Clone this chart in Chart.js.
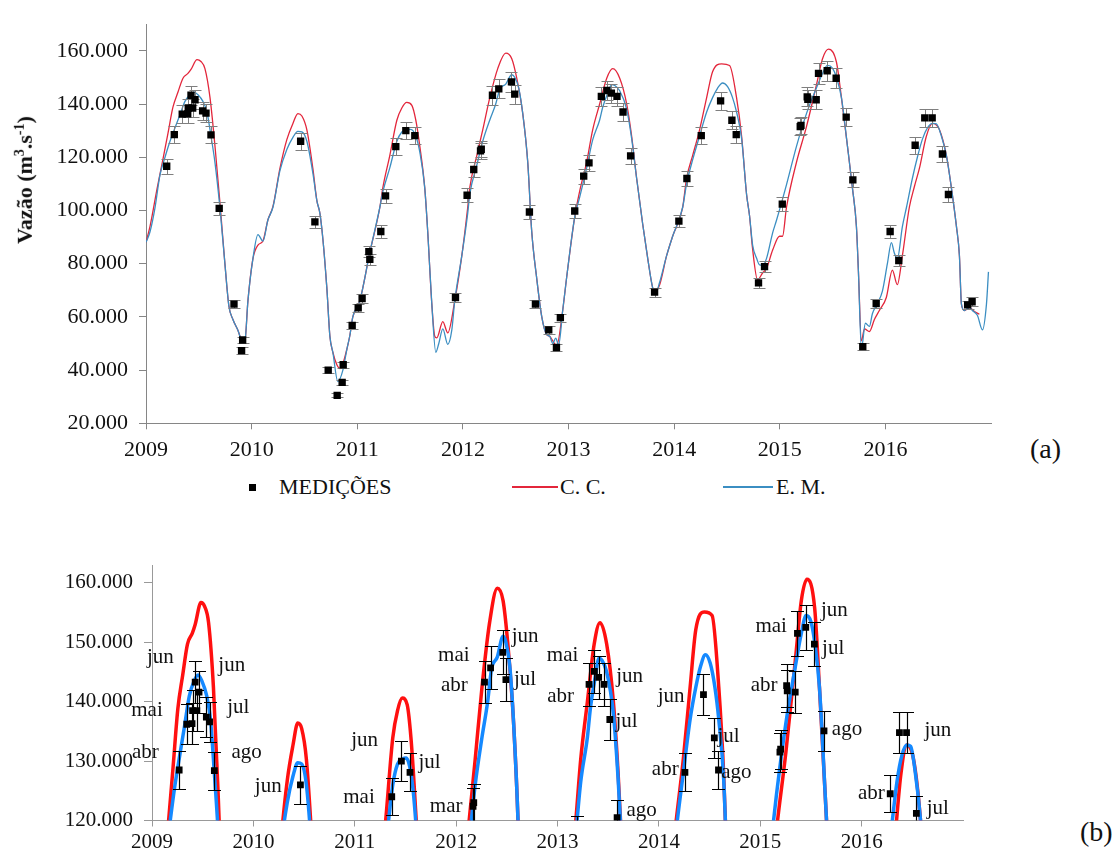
<!DOCTYPE html>
<html>
<head>
<meta charset="utf-8">
<script src="https://cdn.jsdelivr.net/npm/chart.js@4.4.1/dist/chart.umd.min.js"></script>
<style>
  html,body{margin:0;padding:0;background:#fff;}
  body{width:1118px;height:859px;position:relative;overflow:hidden;font-family:"Liberation Serif","Times New Roman",serif;color:#111;}
  canvas{position:absolute;left:0;}
  .t{position:absolute;white-space:nowrap;font-family:"Liberation Serif","Times New Roman",serif;}
</style>
</head>
<body>
<canvas id="ca" width="1010" height="470" style="top:0px"></canvas>
<canvas id="cb" width="1010" height="319" style="top:540px"></canvas>

<div class="t" id="ytitle" style="left:25px;top:180px;font-weight:bold;font-size:22px;transform:translate(-50%,-50%) rotate(-90deg);">Vazão (m<sup style="font-size:14px">3</sup>.s<sup style="font-size:14px">-1</sup>)</div>
<div class="t" style="left:1030px;top:432px;font-size:28px;line-height:34px;">(a)</div>
<div class="t" style="left:1080px;top:815px;font-size:28px;line-height:34px;">(b)</div>

<div style="position:absolute;left:249px;top:484px;width:7px;height:7px;background:#000;"></div>
<div class="t" style="left:279px;top:474px;font-size:22px;line-height:26px;">MEDIÇÕES</div>
<div style="position:absolute;left:512px;top:486px;width:46px;height:1.5px;background:#e3263b;"></div>
<div class="t" style="left:560px;top:474px;font-size:22px;line-height:26px;">C. C.</div>
<div style="position:absolute;left:723px;top:486px;width:50px;height:1.5px;background:#3b8ec2;"></div>
<div class="t" style="left:776px;top:474px;font-size:22px;line-height:26px;">E. M.</div>

<script>
// ---------- tick labels ----------
const years = [2009, 2010, 2011, 2012, 2013, 2014, 2015, 2016];
const yTicksA = [20000, 40000, 60000, 80000, 100000, 120000, 140000, 160000];
const yTicksB = [120000, 130000, 140000, 150000, 160000];

// ---------- C. C. series (decimal year, m3/s) ----------
const ccT = [2009.000,2009.038,2009.104,2009.161,2009.208,2009.255,2009.303,2009.350,2009.397,2009.426,2009.483,2009.520,2009.558,2009.606,2009.653,2009.700,2009.747,2009.785,2009.823,2009.870,2009.918,2009.937,2009.965,2010.012,2010.060,2010.107,2010.154,2010.202,2010.268,2010.334,2010.391,2010.438,2010.476,2010.523,2010.580,2010.618,2010.646,2010.675,2010.712,2010.741,2010.769,2010.807,2010.835,2010.864,2010.902,2010.930,2010.958,2011.024,2011.119,2011.214,2011.242,2011.308,2011.375,2011.422,2011.469,2011.517,2011.554,2011.592,2011.639,2011.668,2011.706,2011.734,2011.753,2011.810,2011.857,2011.923,2011.990,2012.046,2012.065,2012.132,2012.188,2012.255,2012.330,2012.406,2012.463,2012.510,2012.567,2012.614,2012.652,2012.699,2012.747,2012.794,2012.822,2012.851,2012.888,2012.945,2012.983,2013.059,2013.106,2013.172,2013.229,2013.295,2013.362,2013.419,2013.485,2013.551,2013.598,2013.645,2013.702,2013.750,2013.797,2013.816,2013.863,2013.929,2013.986,2014.081,2014.118,2014.175,2014.241,2014.308,2014.364,2014.450,2014.525,2014.591,2014.639,2014.686,2014.714,2014.743,2014.790,2014.837,2014.875,2014.932,2014.998,2015.026,2015.064,2015.159,2015.253,2015.348,2015.405,2015.461,2015.537,2015.584,2015.641,2015.688,2015.726,2015.745,2015.773,2015.802,2015.849,2015.896,2015.943,2016.009,2016.066,2016.113,2016.161,2016.227,2016.275,2016.322,2016.388,2016.446,2016.512,2016.578,2016.625,2016.673,2016.701,2016.720,2016.749,2016.796,2016.843,2016.890];
const ccV = [88000,94000,108000,119400,129000,138800,144500,149700,151500,153000,156700,156000,153300,142400,124200,103000,80000,64000,59000,55000,50300,51000,66000,81800,87000,88500,96400,101500,115800,126700,132700,136400,135500,130300,115700,103600,99000,89100,70900,52700,46700,42000,40600,42400,47900,53000,60000,66000,84200,101200,108500,120600,133900,138500,140600,139500,134000,124200,108500,91500,64800,52700,52100,58200,54000,66000,83000,101200,108500,120600,130300,142400,153300,159100,157000,149700,136400,118200,92000,74500,60000,53300,52700,51000,49100,62400,75000,97600,107300,118200,130300,140000,149700,153300,149700,140000,127900,112100,95000,82000,70900,69500,72100,83000,90300,101200,112100,120600,130300,142400,152100,155100,154500,142400,127900,106000,98000,85500,73900,76500,78200,85000,90300,90300,101200,118200,131500,147300,157000,160600,155700,142400,124200,108500,93900,76900,51000,55500,54500,59000,62400,67300,77600,72100,83000,101200,109000,115800,127900,132700,130300,120600,108500,93900,83000,64800,62400,63500,62000,61000];

// ---------- E. M. series ----------
const emT = [2009.000,2009.038,2009.085,2009.132,2009.180,2009.227,2009.274,2009.322,2009.369,2009.416,2009.454,2009.492,2009.539,2009.577,2009.615,2009.653,2009.700,2009.747,2009.785,2009.823,2009.870,2009.918,2009.937,2009.965,2010.012,2010.060,2010.107,2010.154,2010.202,2010.268,2010.334,2010.391,2010.438,2010.476,2010.523,2010.580,2010.618,2010.646,2010.675,2010.712,2010.741,2010.769,2010.816,2010.864,2010.902,2010.930,2010.958,2011.024,2011.119,2011.214,2011.242,2011.308,2011.375,2011.422,2011.469,2011.507,2011.554,2011.592,2011.639,2011.668,2011.706,2011.744,2011.772,2011.810,2011.857,2011.895,2011.923,2011.990,2012.046,2012.065,2012.132,2012.188,2012.255,2012.311,2012.349,2012.406,2012.463,2012.491,2012.529,2012.567,2012.614,2012.652,2012.699,2012.747,2012.794,2012.822,2012.851,2012.879,2012.907,2012.945,2012.983,2013.059,2013.106,2013.172,2013.229,2013.295,2013.324,2013.371,2013.409,2013.437,2013.485,2013.551,2013.598,2013.645,2013.702,2013.750,2013.797,2013.825,2013.863,2013.929,2013.986,2014.081,2014.118,2014.175,2014.241,2014.308,2014.364,2014.412,2014.459,2014.506,2014.553,2014.591,2014.639,2014.686,2014.714,2014.743,2014.781,2014.809,2014.837,2014.875,2014.932,2014.970,2015.064,2015.159,2015.253,2015.348,2015.405,2015.452,2015.499,2015.537,2015.584,2015.641,2015.688,2015.726,2015.745,2015.773,2015.811,2015.849,2015.877,2015.924,2015.972,2016.019,2016.057,2016.085,2016.113,2016.161,2016.200,2016.256,2016.303,2016.350,2016.398,2016.446,2016.483,2016.530,2016.578,2016.625,2016.673,2016.701,2016.720,2016.749,2016.796,2016.824,2016.871,2016.919,2016.957,2016.976];
const emV = [88000,92000,101000,113300,120000,126000,131000,136000,141000,143500,144500,143500,141000,137000,128000,118000,101000,80000,64000,59000,55000,50300,51000,66000,81800,90900,88500,96400,101200,115000,123000,127500,129700,129500,126000,114000,103600,99000,89100,70900,52700,46700,35700,40000,47900,53000,60000,66000,84200,101200,107000,116000,126000,129500,130300,130500,128000,122000,108500,91500,64800,46700,50000,55500,49700,55000,66000,83000,99000,106000,117000,126000,134000,140000,145500,147500,151000,150000,146000,136400,118200,92000,74500,60000,53300,52700,50000,52000,49500,62400,75000,97600,105000,116000,126500,134000,138800,144000,147300,147000,145000,138000,127000,112100,95000,82000,70900,69000,73000,83000,90300,101200,110000,119000,128000,137000,142400,146000,147900,146500,142400,137000,127000,106000,98000,87000,82000,79500,79400,82000,91500,96400,109700,124200,136400,146100,151500,154500,153500,150000,142400,124200,108500,93900,76900,48000,57600,56400,61200,65000,69700,80000,87900,84000,81800,93900,101200,112100,120000,126700,131000,132700,132500,128000,120600,108500,93900,83000,64800,62400,63600,62400,60600,55100,64800,76900];

// ---------- measurements (MEDIÇÕES) with error bar half-lengths ----------
const measT = [2009.196,2009.268,2009.343,2009.395,2009.400,2009.426,2009.442,2009.464,2009.536,2009.568,2009.615,2009.693,2009.833,2009.915,2009.905,2010.464,2010.599,2010.725,2010.810,2010.857,2010.867,2010.952,2011.009,2011.046,2011.110,2011.119,2011.223,2011.268,2011.365,2011.460,2011.545,2011.930,2012.040,2012.103,2012.167,2012.174,2012.280,2012.340,2012.460,2012.491,2012.630,2012.687,2012.813,2012.886,2012.923,2013.059,2013.144,2013.194,2013.311,2013.364,2013.406,2013.459,2013.516,2013.588,2013.815,2014.045,2014.121,2014.257,2014.440,2014.547,2014.588,2014.799,2014.856,2015.024,2015.194,2015.201,2015.260,2015.266,2015.345,2015.367,2015.449,2015.534,2015.629,2015.692,2015.786,2015.913,2016.045,2016.127,2016.282,2016.373,2016.443,2016.540,2016.597,2016.779,2016.821];
const measV = [116600,128500,136200,136300,138500,143300,138500,141600,137400,136600,128400,100800,64800,51300,47300,126000,95700,40000,30500,35400,42000,56800,63400,66900,84500,81600,92100,105500,124000,130000,128100,67300,105700,115400,122400,123000,143300,145700,148300,143700,99400,64800,55100,48500,59700,99800,112900,117900,142900,145100,144100,142900,137000,120500,69300,96000,112000,128100,141200,133900,128500,72800,78900,102400,131500,132000,142700,141800,141600,151500,152500,149700,135100,111500,48800,65000,92100,81200,124500,134800,134800,121200,106000,64500,65700];
const measErr = [2900,3200,3400,3400,3500,3600,3500,3500,3400,3400,3200,2500,1600,1300,1200,3200,2400,1000,800,900,1100,1400,1600,1700,2100,2000,2300,2600,3100,3300,3200,1700,2600,2900,3100,3100,3600,3600,3700,3600,2500,1600,1400,1200,1500,2500,2800,2900,3600,3600,3600,3600,3400,3000,1700,2400,2800,3200,3500,3300,3200,1800,2000,2600,3300,3300,3600,3500,3500,3800,3800,3700,3400,2800,1200,1600,2300,2000,3100,3400,3400,3000,2700,1600,1600];

// ---------- month annotations in panel (b) ----------
const monthText = ["jun","jun","mai","jul","abr","ago","jun","jun","jul","mai","mar","mai","abr","jun","jul","mai","abr","jun","jul","ago","jun","abr","jul","ago","mai","abr","jun","jul","ago","abr","jun","jul"];
const monthT = [2009.082,2009.787,2008.951,2009.852,2008.934,2009.934,2010.147,2011.098,2011.738,2011.042,2011.902,2011.977,2011.983,2012.680,2012.680,2013.050,2013.030,2013.712,2013.681,2013.829,2014.121,2014.063,2014.687,2014.764,2015.108,2015.038,2015.731,2015.719,2015.856,2016.097,2016.752,2016.752];
const monthV = [147400,146100,138500,139000,131400,131500,125700,133400,129800,123900,122400,147700,142700,150900,143700,147700,140900,144200,136600,121700,140900,128600,134200,128000,152600,142800,155300,149000,135400,124600,135100,122100];

// ---------- helpers ----------
const pts = (T, V) => T.map((t, i) => ({x: t, y: V[i]}));
const SERIF = "'Liberation Serif', 'Times New Roman', serif";

const errorBars = {
  id: 'errbars',
  beforeDatasetDraw(chart, args, opts) {
    if (args.index !== 0) return;
    const {ctx, chartArea: a, scales: {x, y}} = chart;
    ctx.save();
    ctx.beginPath();
    ctx.rect(a.left, a.top, a.right - a.left, a.bottom - a.top);
    ctx.clip();
    ctx.strokeStyle = opts.color;
    ctx.lineWidth = opts.width;
    measT.forEach((t, i) => {
      const px = Math.round(x.getPixelForValue(t)) + 0.5;
      const y1 = Math.round(y.getPixelForValue(measV[i] + measErr[i])) + 0.5;
      const y2 = Math.round(y.getPixelForValue(measV[i] - measErr[i])) + 0.5;
      ctx.beginPath();
      ctx.moveTo(px, y1); ctx.lineTo(px, y2);
      ctx.moveTo(px - opts.cap, y1); ctx.lineTo(px + opts.cap, y1);
      ctx.moveTo(px - opts.cap, y2); ctx.lineTo(px + opts.cap, y2);
      ctx.stroke();
    });
    ctx.restore();
  }
};

const monthLabels = {
  id: 'monthlabels',
  afterDatasetsDraw(chart) {
    const {ctx, scales: {x, y}} = chart;
    ctx.save();
    ctx.fillStyle = '#111';
    ctx.font = '21px ' + SERIF;
    ctx.textAlign = 'center';
    ctx.textBaseline = 'middle';
    monthText.forEach((s, i) => {
      ctx.fillText(s, x.getPixelForValue(monthT[i]), y.getPixelForValue(monthV[i]));
    });
    ctx.restore();
  }
};

function makeChart(id, cfg) {
  return new Chart(document.getElementById(id), {
    type: 'scatter',
    data: {
      datasets: [
        {label: 'MEDIÇÕES', data: pts(measT, measV), pointStyle: 'rect', pointRadius: cfg.markR,
         backgroundColor: '#000', borderColor: '#000', borderWidth: 0, showLine: false},
        {label: 'E. M.', data: pts(emT, emV), showLine: true, borderColor: cfg.blue, borderWidth: cfg.lw,
         pointRadius: 0, cubicInterpolationMode: 'monotone', fill: false},
        {label: 'C. C.', data: pts(ccT, ccV), showLine: true, borderColor: cfg.red, borderWidth: cfg.lw,
         pointRadius: 0, cubicInterpolationMode: 'monotone', fill: false}
      ]
    },
    plugins: cfg.plugins,
    options: {
      responsive: false,
      animation: false,
      events: [],
      layout: {padding: {top: cfg.padTop, right: cfg.padRight, left: 0, bottom: 0}},
      plugins: {
        legend: {display: false},
        tooltip: {enabled: false},
        errbars: {color: cfg.errColor, width: cfg.errWidth, cap: cfg.cap}
      },
      scales: {
        x: {
          type: 'linear', min: 2009, max: 2017,
          afterBuildTicks: s => { s.ticks = years.map(v => ({value: v})); },
          afterFit: s => { s.height = cfg.xH; },
          grid: {drawOnChartArea: false, drawTicks: true, tickLength: 6, color: cfg.axisColor},
          border: {display: true, color: cfg.axisColor, width: 1},
          ticks: {font: {family: SERIF, size: cfg.fs}, color: '#111', padding: cfg.xPad,
                  maxRotation: 0, autoSkip: false, callback: v => String(v)}
        },
        y: {
          type: 'linear', min: cfg.ymin, max: cfg.ymax,
          afterBuildTicks: s => { s.ticks = cfg.yTicks.map(v => ({value: v})); },
          afterFit: s => { s.width = cfg.yW; },
          grid: {drawOnChartArea: false, drawTicks: true, tickLength: cfg.yTL, color: cfg.axisColor},
          border: {display: true, color: cfg.axisColor, width: 1},
          ticks: {font: {family: SERIF, size: cfg.fs}, color: '#111', padding: cfg.yPad,
                  autoSkip: false, callback: v => Math.round(v / 1000) + '.000'}
        }
      }
    }
  });
}

makeChart('ca', {
  markR: 5.2, blue: '#3b8ec2', red: '#e3263b', lw: 1.3,
  plugins: [errorBars], padTop: 11, padRight: 19,
  errColor: '#7f7f7f', errWidth: 1, cap: 6,
  xH: 46.7, xPad: 8, fs: 22, axisColor: '#868686',
  ymin: 20000, ymax: 170000, yTicks: yTicksA, yW: 146, yTL: 7, yPad: 11
});

makeChart('cb', {
  markR: 4.8, blue: '#1589ff', red: '#ff1010', lw: 3.5,
  plugins: [errorBars, monthLabels], padTop: 25, padRight: 47,
  errColor: '#000', errWidth: 1.2, cap: 6.5,
  xH: 38.5, xPad: 3, fs: 21, axisColor: '#999999',
  ymin: 120000, ymax: 163000, yTicks: yTicksB, yW: 152, yTL: 8, yPad: 11
});
</script>
</body>
</html>
